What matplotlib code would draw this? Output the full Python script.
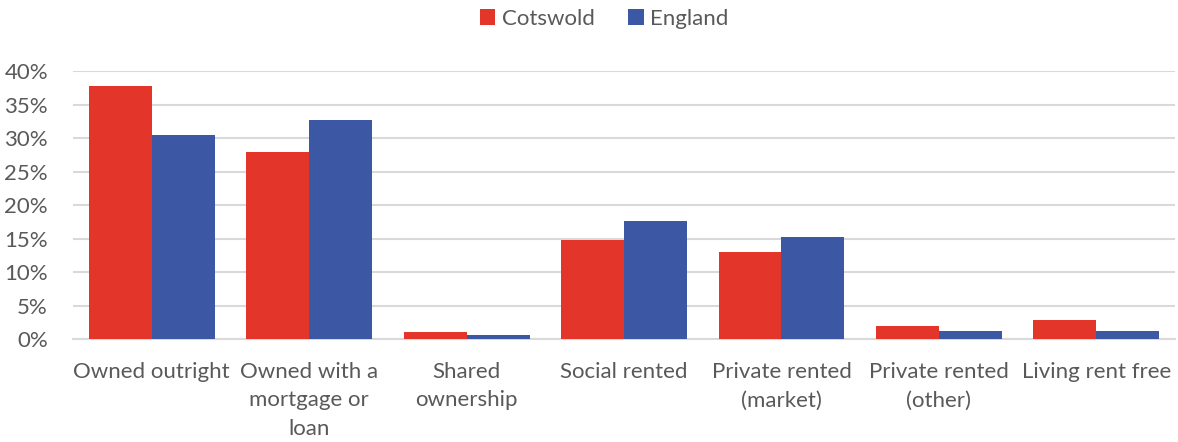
import matplotlib
matplotlib.use("Agg")
import matplotlib.pyplot as plt
import numpy as np
from matplotlib.ticker import FuncFormatter, MultipleLocator

categories = ["Owned outright", "Owned with a\nmortgage or\nloan", "Shared\nownership",
              "Social rented", "Private rented\n(market)", "Private rented\n(other)",
              "Living rent free"]
cotswold = [37.8, 27.9, 1.1, 14.8, 13.1, 2.0, 2.9]
england = [30.5, 32.7, 0.7, 17.6, 15.3, 1.3, 1.25]
series_names = ["Cotswold", "England"]

red = "#E3352A"
blue = "#3C57A4"
grey_text = "#595959"

plt.rcParams['font.family'] = ['Lato', 'DejaVu Sans']

fig = plt.figure(figsize=(11.78, 4.42), dpi=100)
ax = fig.add_axes([0.062, 0.232, 0.9355, 0.607])

x = np.arange(len(categories))
w = 0.4
ax.bar(x - w/2, cotswold, w, color=red, label=series_names[0], zorder=3)
ax.bar(x + w/2, england, w, color=blue, label=series_names[1], zorder=3)

ax.set_xlim(-0.5, len(categories) - 0.5)
ax.set_ylim(0, 40)
ax.yaxis.set_major_locator(MultipleLocator(5))
ax.yaxis.set_major_formatter(FuncFormatter(lambda v, p: f"{int(v)}%"))
ax.grid(axis='y', color="#D9D9D9", linewidth=1.5, zorder=0)
ax.set_axisbelow(True)
for s in ['top', 'right', 'left']:
    ax.spines[s].set_visible(False)
ax.spines['bottom'].set_color("#D9D9D9")
ax.spines['bottom'].set_linewidth(1.5)

ax.set_xticks(x)
ax.set_xticklabels(categories, fontsize=16, color=grey_text, linespacing=1.55)
ax.tick_params(axis='x', length=0, pad=16)
ax.tick_params(axis='y', length=0, labelsize=16, labelcolor=grey_text, pad=18)
for lbl in ax.get_yticklabels():
    lbl.set_horizontalalignment('right')

leg = fig.legend(loc='upper center', bbox_to_anchor=(0.513, 1.025), ncol=2, frameon=False,
                 fontsize=16, handlelength=0.7, handleheight=0.7, handletextpad=0.3,
                 columnspacing=1.5)
for t in leg.get_texts():
    t.set_color(grey_text)

fig.savefig("out.png", dpi=100)
